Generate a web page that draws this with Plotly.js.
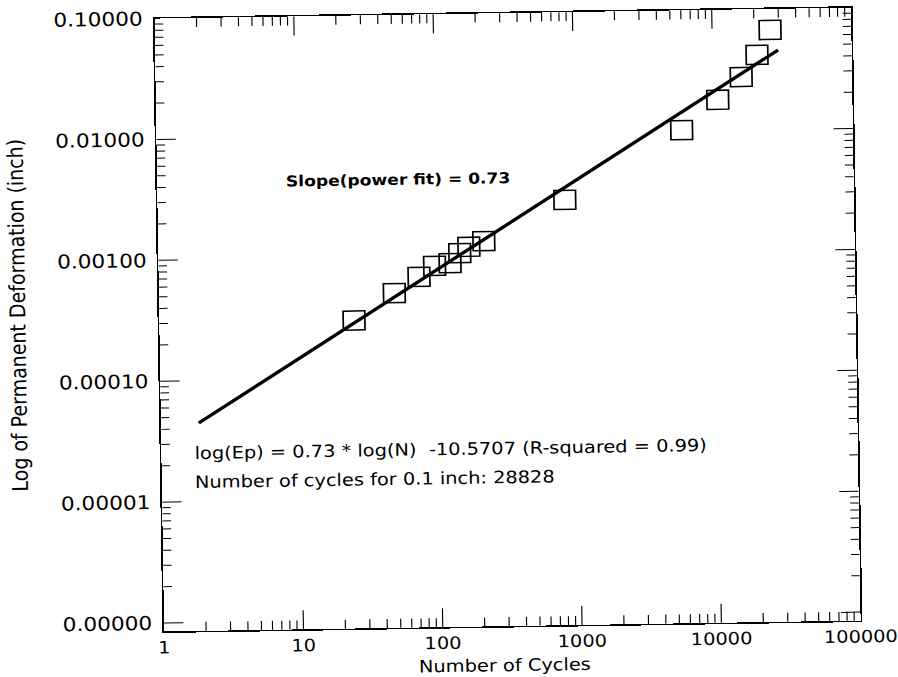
<!DOCTYPE html>
<html>
<head>
<meta charset="utf-8">
<script src="https://cdn.plot.ly/plotly-3.0.1.min.js"></script>
<style>
  html, body { margin: 0; padding: 0; background: #ffffff; overflow: hidden; }
  #outer { position: absolute; left: 0; top: 0; width: 898px; height: 677px;
           transform-origin: 449px 338.5px; transform: rotate(-0.9deg); }
  #chart { position: absolute; left: 0; top: 0; width: 788px; height: 677px;
           transform-origin: 0 0; transform: scaleX(1.14); }
</style>
</head>
<body>
<div id="outer"><div id="chart"></div></div>
<script>
// ---- data ----
const cycles = [25, 49, 74, 96, 124, 146, 170, 218, 840, 5900, 10800, 16000, 20900, 26100];
const deformation = [3.0e-4, 5.0e-4, 6.75e-4, 8.3e-4, 8.7e-4, 1.05e-3, 1.18e-3, 1.31e-3, 2.8e-3, 0.0102, 0.018, 0.0276, 0.0418, 0.067];
const fitCycles = [1.87, 29650];
const fitDeformation = [4.46e-5, 0.0456];

const xTickVals = [1, 10, 100, 1000, 10000, 100000];
const xTickText = ["1", "10", "100", "1000", "10000", "100000"];
const yTickVals = [1e-6, 1e-5, 1e-4, 1e-3, 1e-2, 1e-1];
const yTickText = ["0.00000", "0.00001", "0.00010", "0.00100", "0.01000", "0.10000"];

const xTitle = "Number of Cycles";
const yTitle = "Log of Permanent Deformation (inch)";
const slopeText = "Slope(power fit) = 0.73";
const eqText = "log(Ep) = 0.73 * log(N)  -10.5707 (R-squared = 0.99)";
const cyclesText = "Number of cycles for 0.1 inch: 28828";

// minor tick positions (2..9 within each decade)
function minorTicks(lo, hi) {
  const out = [];
  for (let d = lo; d < hi; d++) {
    for (let m = 2; m <= 9; m++) out.push(m * Math.pow(10, d));
  }
  return out;
}

const FONT = "DejaVu Sans, Arial, sans-serif";

const traces = [
  {
    x: fitCycles, y: fitDeformation, type: "scatter", mode: "lines",
    line: { color: "#000000", width: 3.2 }, hoverinfo: "skip", showlegend: false
  },
  {
    x: cycles, y: deformation, type: "scatter", mode: "markers",
    marker: { symbol: "square-open", size: 19, color: "#000000", line: { width: 1.5, color: "#000000" } },
    showlegend: false
  }
];

const layout = {
  width: 788, height: 677, autosize: false,
  margin: { l: 140.35, r: 37.1, t: 14, b: 50 },
  paper_bgcolor: "#ffffff", plot_bgcolor: "#ffffff",
  font: { family: FONT, color: "#000000", size: 18 },
  showlegend: false,
  xaxis: {
    type: "log", range: [0, 5],
    tickmode: "array", tickvals: xTickVals, ticktext: xTickText,
    ticks: "inside", ticklen: 19, tickwidth: 1, tickcolor: "#000000",
    showline: true, linewidth: 1.5, linecolor: "#000000", mirror: "allticks",
    showgrid: false, zeroline: false,
    tickfont: { family: FONT, size: 17, color: "#000000" },
    minor: { tickmode: "array", tickvals: minorTicks(0, 5), ticks: "inside", ticklen: 9, tickwidth: 1, tickcolor: "#000000", showgrid: false }
  },
  yaxis: {
    type: "log", range: [-6.07, -1],
    tickmode: "array", tickvals: yTickVals, ticktext: yTickText,
    ticks: "inside", ticklen: 17, tickwidth: 1, tickcolor: "#000000",
    showline: true, linewidth: 1.5, linecolor: "#000000", mirror: "allticks",
    showgrid: false, zeroline: false, ticklabelstandoff: 5,
    tickfont: { family: FONT, size: 19, color: "#000000" },
    minor: { tickmode: "array", tickvals: minorTicks(-6, -1), ticks: "inside", ticklen: 7.5, tickwidth: 1, tickcolor: "#000000", showgrid: false }
  },
  annotations: [
    { xref: "paper", yref: "paper", x: 0.3455, y: 0.7308, xanchor: "center", yanchor: "middle",
      text: slopeText, showarrow: false, font: { family: FONT, size: 15, weight: "bold", color: "#000000" } },
    { xref: "paper", yref: "paper", x: 0.0448, y: 0.2904, xanchor: "left", yanchor: "middle",
      text: eqText, showarrow: false, font: { family: FONT, size: 17, color: "#000000" } },
    { xref: "paper", yref: "paper", x: 0.0448, y: 0.2431, xanchor: "left", yanchor: "middle",
      text: cyclesText, showarrow: false, font: { family: FONT, size: 17, color: "#000000" } },
    { xref: "paper", yref: "paper", x: 0.4885, y: -0.0636, xanchor: "center", yanchor: "middle",
      text: xTitle, showarrow: false, font: { family: FONT, size: 17, color: "#000000" } },
    { xref: "paper", yref: "paper", x: -0.2034, y: 0.52, xanchor: "center", yanchor: "middle",
      text: yTitle, textangle: -90, showarrow: false, font: { family: FONT, size: 19, color: "#000000" } }
  ]
};

Plotly.newPlot("chart", traces, layout, { displayModeBar: false, staticPlot: true });
</script>
</body>
</html>
